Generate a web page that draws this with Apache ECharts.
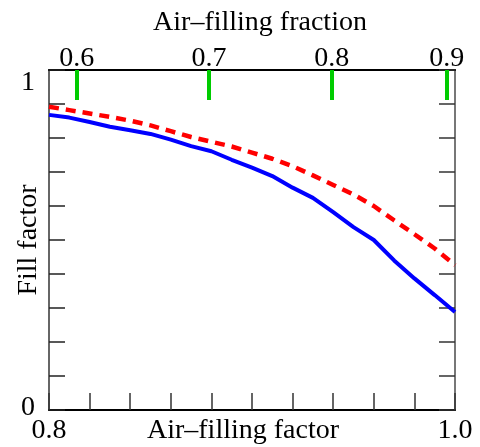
<!DOCTYPE html>
<html>
<head>
<meta charset="utf-8">
<script src="https://cdn.jsdelivr.net/npm/echarts@6/dist/echarts.min.js"></script>
<style>
  html, body { margin: 0; padding: 0; background: #fff; }
  #chart { width: 480px; height: 447px; }
</style>
</head>
<body>
<div id="chart"></div>
<script>
// Air-filling factor (bottom axis) sampled every 0.01
const airFactor = [0.80, 0.81, 0.82, 0.83, 0.84, 0.85, 0.86, 0.87, 0.88, 0.89, 0.90,
                   0.91, 0.92, 0.93, 0.94, 0.95, 0.96, 0.97, 0.98, 0.99, 1.00];
// Fill factor, solid blue curve
const fillSolid = [0.868, 0.860, 0.847, 0.833, 0.823, 0.812, 0.795, 0.776, 0.761, 0.736, 0.713,
                   0.688, 0.654, 0.624, 0.582, 0.538, 0.500, 0.440, 0.387, 0.338, 0.288];
// Fill factor, dashed red curve
const fillDashed = [0.892, 0.882, 0.872, 0.862, 0.851, 0.837, 0.820, 0.803, 0.789, 0.775, 0.757,
                    0.739, 0.717, 0.690, 0.662, 0.634, 0.600, 0.558, 0.517, 0.475, 0.426];
// Bottom axis ticks and labelled ends
const factorTicks = [0.80, 0.82, 0.84, 0.86, 0.88, 0.90, 0.92, 0.94, 0.96, 0.98, 1.00];
const factorLabels = [0.8, 1.0];
// Left/right axis ticks and labelled ends
const fillTicks = [0, 0.1, 0.2, 0.3, 0.4, 0.5, 0.6, 0.7, 0.8, 0.9, 1];
const fillLabels = [0, 1];
// Top axis: air-filling fraction labels and where they fall on the factor scale
const fractionLabels = ['0.6', '0.7', '0.8', '0.9'];
const fractionAt = [0.8137, 0.8788, 0.9393, 0.9959];

const FONT = "'Liberation Serif', 'Times New Roman', serif";
const FS = 28;

const pair = (xs, ys) => xs.map((x, i) => [x, ys[i]]);

const chart = echarts.init(document.getElementById('chart'), null, { renderer: 'canvas' });

chart.setOption({
  animation: false,
  backgroundColor: '#fff',
  grid: { left: 49, right: 25, top: 70, bottom: 37, containLabel: false, outerBoundsMode: 'none' },
  xAxis: [
    {
      type: 'value', position: 'bottom', min: 0.8, max: 1.0, interval: 0.02,
      name: 'Air\u2013filling factor', nameLocation: 'middle', nameGap: 7, nameMoveOverlap: false,
      nameTextStyle: { fontFamily: FONT, fontSize: FS, color: '#000', padding: [0, 18, 0, 0], verticalAlign: 'top' },
      axisLine: { show: true, onZero: false, lineStyle: { color: '#000', width: 2 } },
      axisTick: { show: true, inside: true, length: 17, customValues: factorTicks, lineStyle: { color: '#333', width: 1.5 } },
      axisLabel: {
        customValues: factorLabels, margin: 7,
        fontFamily: FONT, fontSize: FS, color: '#000',
        formatter: v => v.toFixed(1)
      },
      splitLine: { show: false }
    },
    {
      type: 'value', position: 'top', min: 0.8, max: 1.0,
      name: 'Air\u2013filling fraction', nameLocation: 'middle', nameGap: 33, nameMoveOverlap: false,
      nameTextStyle: { fontFamily: FONT, fontSize: FS, color: '#000', padding: [0, 0, 0, 16] },
      axisLine: { show: true, onZero: false, lineStyle: { color: '#000', width: 2 } },
      axisTick: { show: true, inside: true, length: 30, customValues: fractionAt, lineStyle: { color: '#0c0', width: 4 } },
      axisLabel: {
        customValues: fractionAt, margin: -3,
        fontFamily: FONT, fontSize: FS, color: '#000',
        formatter: v => {
          const i = fractionAt.findIndex(p => Math.abs(p - v) < 1e-6);
          return i >= 0 ? fractionLabels[i] : '';
        }
      },
      splitLine: { show: false }
    }
  ],
  yAxis: [
    {
      type: 'value', position: 'left', min: 0, max: 1, interval: 0.1,
      name: 'Fill factor', nameLocation: 'middle', nameGap: 6, nameRotate: 90, nameMoveOverlap: false,
      nameTextStyle: { fontFamily: FONT, fontSize: FS, color: '#000', verticalAlign: 'bottom' },
      axisLine: { show: true, onZero: false, lineStyle: { color: '#666', width: 2 } },
      axisTick: { show: true, inside: true, length: 16, customValues: fillTicks, lineStyle: { color: '#222', width: 1.5 } },
      axisLabel: {
        customValues: fillLabels, margin: 14,
        fontFamily: FONT, fontSize: FS, color: '#000',
        formatter: v => (v === 1 ? '{hi|1}' : '{lo|0}'),
        rich: {
          hi: { fontFamily: FONT, fontSize: FS, color: '#000', padding: [26, 0, 0, 0] },
          lo: { fontFamily: FONT, fontSize: FS, color: '#000', padding: [0, 0, 4, 0] }
        }
      },
      splitLine: { show: false }
    },
    {
      type: 'value', position: 'right', min: 0, max: 1, interval: 0.1,
      axisLine: { show: true, onZero: false, lineStyle: { color: '#777', width: 2 } },
      axisTick: { show: true, inside: true, length: 16, customValues: fillTicks, lineStyle: { color: '#333', width: 1.5 } },
      axisLabel: { show: false },
      splitLine: { show: false }
    }
  ],
  series: [
    {
      type: 'line', xAxisIndex: 0, yAxisIndex: 0,
      data: pair(airFactor, fillSolid),
      showSymbol: false, smooth: false,
      lineStyle: { color: '#0000ff', width: 4 },
      z: 3
    },
    {
      type: 'line', xAxisIndex: 0, yAxisIndex: 0,
      data: pair(airFactor, fillDashed),
      showSymbol: false, smooth: false,
      lineStyle: { color: '#ff0000', width: 4.5, type: [10, 7] },
      z: 4
    }
  ]
});
</script>
</body>
</html>
